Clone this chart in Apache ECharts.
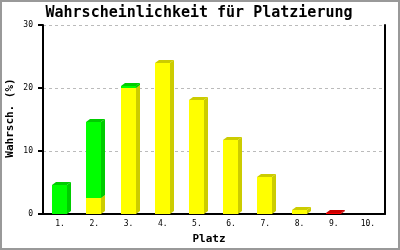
<!DOCTYPE html>
<html>
<head>
<meta charset="utf-8">
<script src="https://cdn.jsdelivr.net/npm/echarts@6/dist/echarts.min.js"></script>
<style>html,body{margin:0;padding:0;background:#fff}#c{width:400px;height:250px}</style>
</head>
<body>
<div id="c"></div>
<script>
const categories = ['1.','2.','3.','4.','5.','6.','7.','8.','9.','10.'];
const yellowValues = [0, 2.5, 20.0, 24.0, 18.1, 11.7, 5.9, 0.65, 0, 0];
const greenValues  = [4.6, 12.1, 0.3, 0, 0, 0, 0, 0, 0, 0];
const redValues    = [0, 0, 0, 0, 0, 0, 0, 0, 0.12, 0];
const yTicks = [0, 10, 20, 30];

const stackOrder = [
  {vals: yellowValues, front: '#ffff00', dark: '#cccc00'},
  {vals: greenValues,  front: '#00ff00', dark: '#00cc00'},
  {vals: redValues,    front: '#ff0000', dark: '#cc0000'}
];

function buildData(k) {
  return categories.map((c, i) => {
    let base = 0;
    for (let j = 0; j < k; j++) base += stackOrder[j].vals[i];
    return [i, base, stackOrder[k].vals[i]];
  });
}

function makeRender(front, dark) {
  return function (params, api) {
    const v = api.value(2);
    if (!v) return;
    const idx = api.value(0);
    const base = api.value(1);
    const cx = api.coord([idx, 0])[0];
    const y0 = Math.round(api.coord([idx, base])[1]);
    const y1 = Math.round(api.coord([idx, base + v])[1]);
    const w = 15, dx = 4, dy = 3;
    const left = Math.round(cx - 8);
    return {
      type: 'group',
      children: [
        {type: 'polygon', shape: {points: [[left + w, y1], [left + w + dx, y1 - dy], [left + w + dx, y0 - dy], [left + w, y0]]}, style: {fill: dark}},
        {type: 'polygon', shape: {points: [[left, y1], [left + dx, y1 - dy], [left + w + dx, y1 - dy], [left + w, y1]]}, style: {fill: dark}},
        {type: 'rect', shape: {x: left, y: y1, width: w, height: y0 - y1}, style: {fill: front}}
      ]
    };
  };
}

const chart = echarts.init(document.getElementById('c'), null, {renderer: 'canvas'});
const mono = '"DejaVu Sans Mono", "Liberation Mono", monospace';
chart.setOption({
  animation: false,
  backgroundColor: '#fff',
  grid: {left: 43, right: 15, top: 25, bottom: 36, containLabel: false},
  xAxis: {
    type: 'category', data: categories,
    axisLine: {lineStyle: {color: '#000', width: 2}},
    axisTick: {show: false},
    axisLabel: {fontFamily: mono, fontSize: 8, color: '#000', margin: 6}
  },
  yAxis: [{
    type: 'value', min: yTicks[0], max: yTicks[yTicks.length - 1], interval: 10,
    axisLine: {show: true, lineStyle: {color: '#000', width: 2}},
    axisTick: {show: true, length: 5, lineStyle: {color: '#000', width: 2}},
    axisLabel: {fontFamily: mono, fontSize: 8, color: '#000', margin: 10},
    splitLine: {show: true, lineStyle: {color: '#bbb', type: [3, 3], width: 1}}
  }, {
    type: 'value', position: 'right', min: 0, max: 30, interval: 10,
    axisLine: {show: true, lineStyle: {color: '#000', width: 2}},
    axisTick: {show: false}, axisLabel: {show: false}, splitLine: {show: false}
  }],
  graphic: [
    {type: 'rect', shape: {x: 1, y: 1, width: 398, height: 248}, style: {fill: 'none', stroke: '#999', lineWidth: 2}, z: 100},
    {type: 'text', x: 199, y: 13, style: {text: 'Wahrscheinlichkeit für Platzierung', x: 0, y: 0, textAlign: 'center', textVerticalAlign: 'middle', font: 'bold 15px ' + mono, fill: '#000'}},
    {type: 'text', x: 209, y: 239, style: {text: 'Platz', x: 0, y: 0, textAlign: 'center', textVerticalAlign: 'middle', font: 'bold 11px ' + mono, fill: '#000'}},
    {type: 'text', rotation: Math.PI / 2, x: 10, y: 118, style: {text: 'Wahrsch. (%)', x: 0, y: 0, textAlign: 'center', textVerticalAlign: 'middle', font: 'bold 11px ' + mono, fill: '#000'}}
  ],
  series: stackOrder.map((s, k) => ({
    type: 'custom',
    renderItem: makeRender(s.front, s.dark),
    data: buildData(k),
    encode: {x: 0, y: [1, 2]},
    z: 2 + k
  }))
});
</script>
</body>
</html>
